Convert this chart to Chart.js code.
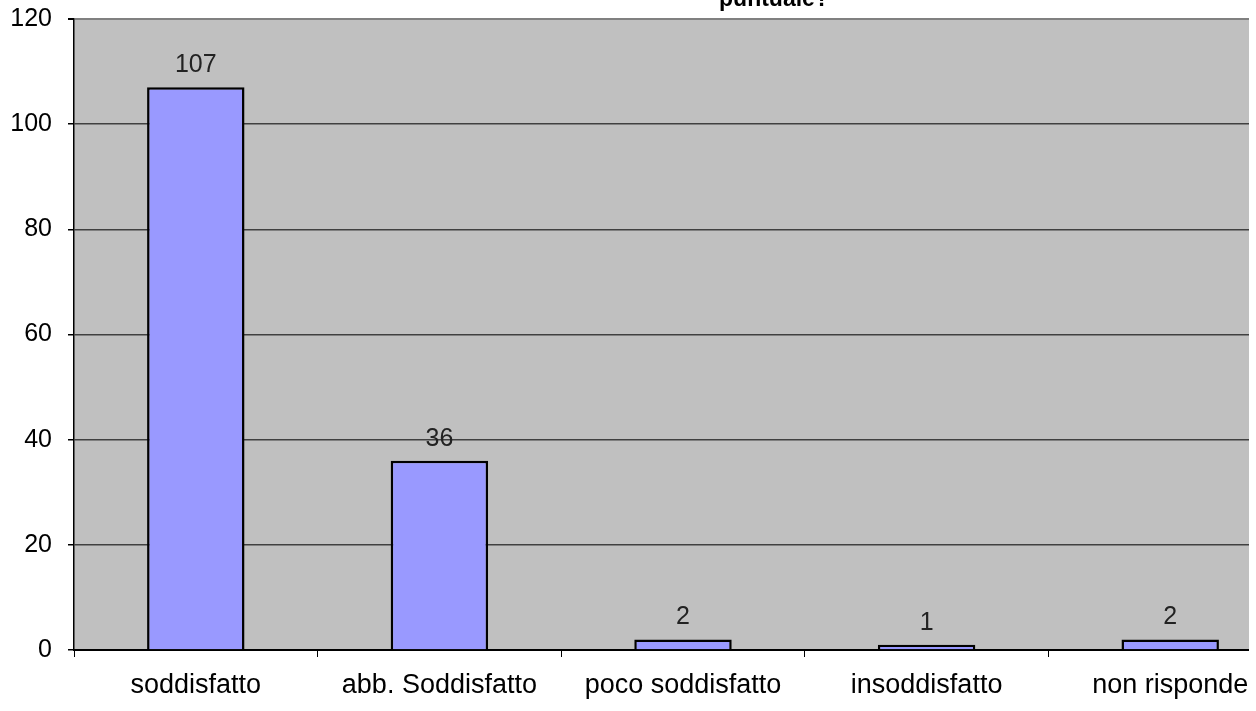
<!DOCTYPE html>
<html lang="it">
<head>
  <meta charset="utf-8">
  <title>puntuale?</title>
  <style>
    html, body {
      margin: 0;
      padding: 0;
      background: #fff;
      overflow: hidden;
    }
    /* il grafico originale e' tagliato a destra e in alto */
    #chart-container {
      position: absolute;
      left: 0;
      top: 0;
      width: 1249px;
      height: 711px;
      overflow: hidden;
    }
    #chart-container canvas {
      position: absolute;
      left: 0;
      top: -12px;
    }
  </style>
  <script src="https://cdn.jsdelivr.net/npm/chart.js"></script>
</head>
<body>
<div id="chart-container">
  <canvas id="barChart" width="1300" height="723"></canvas>
</div>
<script>
  // dati
  var titleText = 'puntuale?';
  var categories = ['soddisfatto', 'abb. Soddisfatto', 'poco soddisfatto', 'insoddisfatto', 'non risponde'];
  var values = [107, 36, 2, 1, 2];
  var yTicks = [0, 20, 40, 60, 80, 100, 120];

  var FONT = '"Liberation Sans", Arial, sans-serif';

  // sfondo grigio dell'area del grafico
  var plotBackground = {
    id: 'plotBackground',
    beforeDraw: function(chart) {
      var a = chart.chartArea;
      var ctx = chart.ctx;
      ctx.save();
      ctx.fillStyle = '#c0c0c0';
      ctx.fillRect(a.left, a.top, a.right - a.left, a.bottom - a.top);
      ctx.restore();
    }
  };

  // etichette con i valori sopra le barre + titolo
  var valueLabels = {
    id: 'valueLabels',
    afterDatasetsDraw: function(chart) {
      var ctx = chart.ctx;
      var meta = chart.getDatasetMeta(0);
      ctx.save();
      ctx.font = '25px ' + FONT;
      ctx.fillStyle = '#222';
      ctx.textAlign = 'center';
      ctx.textBaseline = 'alphabetic';
      meta.data.forEach(function(bar, i) {
        ctx.fillText(String(values[i]), bar.x, bar.y - 15);
      });
      ctx.font = 'bold 23px ' + FONT;
      ctx.fillStyle = '#000';
      ctx.fillText(titleText, 774, 18);
      ctx.restore();
    }
  };

  var ctx = document.getElementById('barChart').getContext('2d');
  var barChart = new Chart(ctx, {
    type: 'bar',
    data: {
      labels: categories,
      datasets: [{
        data: values,
        backgroundColor: '#9999ff',
        borderColor: '#000',
        borderWidth: 2.5,
        borderSkipped: 'bottom',
        barPercentage: 0.4,
        categoryPercentage: 1
      }]
    },
    options: {
      responsive: false,
      animation: false,
      devicePixelRatio: 1,
      layout: {
        padding: { top: 6, right: 8, bottom: 0, left: 0 }
      },
      plugins: {
        legend: { display: false },
        title: { display: false },
        tooltip: { enabled: false }
      },
      scales: {
        x: {
          offset: true,
          grid: {
            offset: true,
            drawOnChartArea: false,
            drawTicks: true,
            tickLength: 7,
            tickColor: '#000'
          },
          border: { color: '#000', width: 2 },
          ticks: {
            color: '#000',
            padding: 12,
            maxRotation: 0,
            autoSkip: false,
            font: { family: FONT, size: 27 }
          },
          afterFit: function(scale) { scale.height = 61; }
        },
        y: {
          min: 0,
          max: 120,
          afterBuildTicks: function(scale) {
            scale.ticks = yTicks.map(function(v) { return { value: v }; });
          },
          grid: {
            color: function(c) { return c.tick && c.tick.value === 120 ? '#808080' : '#404040'; },
            lineWidth: function(c) { return c.tick && c.tick.value === 120 ? 2 : 1.5; },
            tickLength: 6,
            tickColor: '#000'
          },
          border: { color: '#000', width: 1.5 },
          ticks: {
            color: '#000',
            padding: 16,
            font: { family: FONT, size: 25 }
          },
          afterFit: function(scale) { scale.width = 74; }
        }
      }
    },
    plugins: [plotBackground, valueLabels]
  });
</script>
</body>
</html>
